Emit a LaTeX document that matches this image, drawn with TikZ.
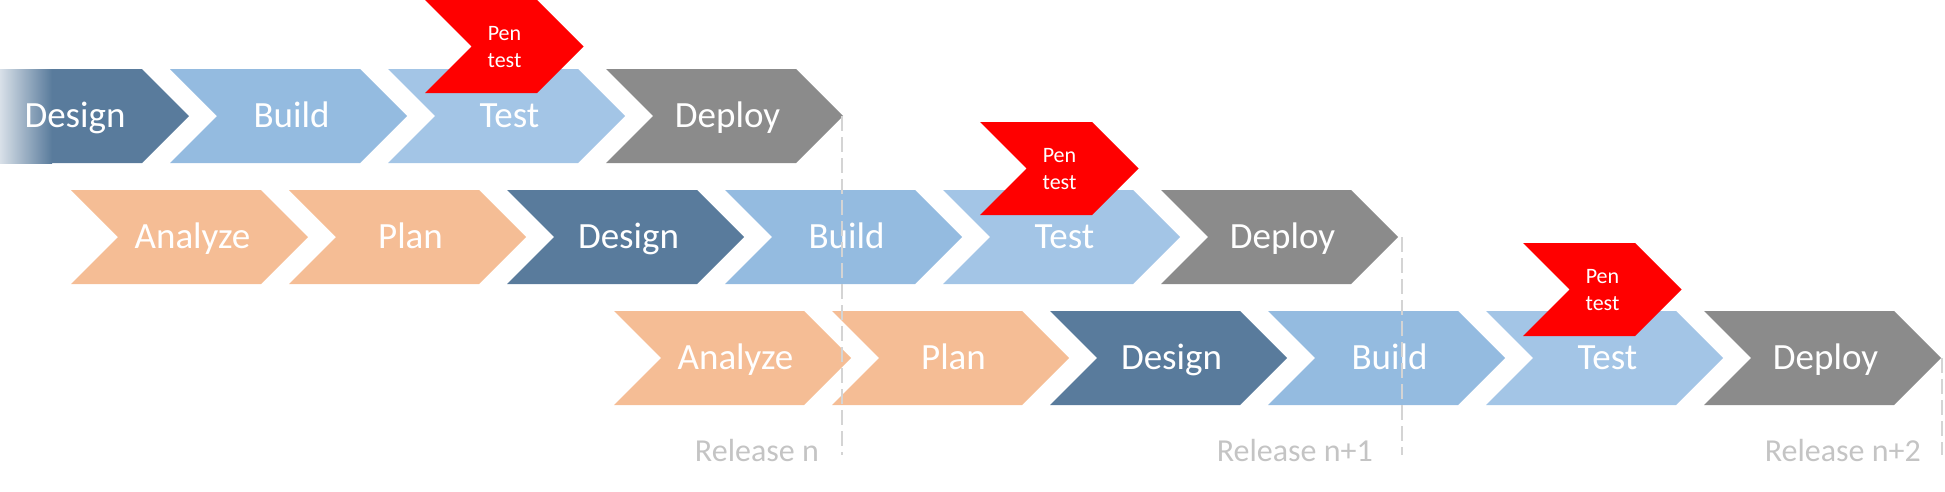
\documentclass[tikz,border=0pt]{standalone}
\usepackage{fontspec}
\setmainfont{Carlito}
\definecolor{cdesign}{HTML}{597B9C}
\definecolor{cdesignlight}{HTML}{D8E0E8}
\definecolor{cbuild}{HTML}{94BBE0}
\definecolor{ctest}{HTML}{A3C5E6}
\definecolor{cdeploy}{HTML}{8B8B8B}
\definecolor{canalyze}{HTML}{F5BD95}
\definecolor{penred}{HTML}{FF0000}
\definecolor{linegray}{HTML}{D4D4D4}
\definecolor{relgray}{HTML}{C4C4C4}
\tikzset{
  chevtext/.style={text=white, font=\fontsize{37}{44}\selectfont, inner sep=0pt, anchor=base},
  pentext/.style={text=white, font=\fontsize{22}{27}\selectfont, align=center, inner sep=0pt},
  reltext/.style={text=relgray, font=\fontsize{32}{38}\selectfont, anchor=base east, inner sep=0pt},
  relline/.style={draw=linegray, line width=2pt, dash pattern=on 15pt off 6pt},
}
% name, x (top-left), y (top), colour, text
\newcommand{\chevshape}[5]{%
  \fill[#4] (#2,#3) -- ++(190,0) -- ++(47,47) -- ++(-47,47) -- ++(-190,0) -- ++(47,-47) -- cycle;
  \node[chevtext] (#1) at (#2+121.5,#3+58.5) {#5};
  \coordinate (#1tip) at (#2+237,#3+47);
}
% name, x (top-left), y (top)
\newcommand{\penshape}[3]{%
  \fill[penred] (#2,#3) -- ++(112,0) -- ++(46.5,46.5) -- ++(-46.5,46.5) -- ++(-112,0) -- ++(46.5,-46.5) -- cycle;
  \node[pentext] (#1) at (#2+79.5,#3+47) {Pen\\test};
}
\begin{document}
\begin{tikzpicture}[x=1pt,y=-1pt]
\useasboundingbox (0,0) rectangle (1945,491);
% Row 1
\fill[cdesign] (0,69) -- (142,69) -- (189,116) -- (142,163) -- (0,163) -- cycle;
\shade[left color=cdesignlight, right color=cdesign] (0,69) rectangle (52,163);
\node[chevtext] (design1) at (75,127.5) {Design};
\chevshape{build1}{170}{69}{cbuild}{Build}
\chevshape{test1}{388}{69}{ctest}{Test}
\chevshape{deploy1}{606}{69}{cdeploy}{Deploy}
\penshape{pen1}{425}{0}
% Row 2
\chevshape{analyze2}{71}{190}{canalyze}{Analyze}
\chevshape{plan2}{289}{190}{canalyze}{Plan}
\chevshape{design2}{507}{190}{cdesign}{Design}
\chevshape{build2}{725}{190}{cbuild}{Build}
\chevshape{test2}{943}{190}{ctest}{Test}
\chevshape{deploy2}{1161}{190}{cdeploy}{Deploy}
\penshape{pen2}{980}{122}
% Row 3
\chevshape{analyze3}{614}{311}{canalyze}{Analyze}
\chevshape{plan3}{832}{311}{canalyze}{Plan}
\chevshape{design3}{1050}{311}{cdesign}{Design}
\chevshape{build3}{1268}{311}{cbuild}{Build}
\chevshape{test3}{1486}{311}{ctest}{Test}
\chevshape{deploy3}{1704}{311}{cdeploy}{Deploy}
\penshape{pen3}{1523}{243}
% Release lines
\coordinate (rel1end) at (842,455);
\coordinate (rel2end) at (1402,455);
\coordinate (rel3end) at (1942,455);
\coordinate (rel1top) at (842,116);
\coordinate (rel2top) at (1402,237);
\coordinate (rel3top) at (1942,358);
\draw[relline] (rel1top) -- (rel1end);
\draw[relline] (rel2top) -- (rel2end);
\draw[relline] (rel3top) -- (rel3end);
\node[reltext] (reln) at (819,461) {Release n};
\node[reltext] (reln1) at (1373,461) {Release n+1};
\node[reltext] (reln2) at (1921,461) {Release n+2};
\end{tikzpicture}
\end{document}
